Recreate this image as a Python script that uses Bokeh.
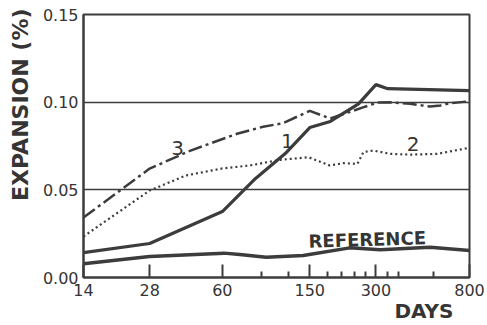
from bokeh.plotting import figure
from bokeh.models import Range1d, FixedTicker, CustomJSTickFormatter, Label, Title
from bokeh.embed import file_html
from bokeh.resources import INLINE

# ---- data ----
days_1 = [14, 28, 60, 85, 116, 150, 186, 250, 300, 340, 800]
exp_1 = [0.0142, 0.0194, 0.0376, 0.0565, 0.0707, 0.0855, 0.0890, 0.0990, 0.1100, 0.1077, 0.1066]

days_2 = [14, 28, 41, 60, 80, 110, 148, 185, 213, 247, 263, 292, 349, 430, 570, 800]
exp_2 = [0.0234, 0.0496, 0.0582, 0.0622, 0.0639, 0.0671, 0.0686, 0.0639, 0.0652, 0.0648,
         0.0715, 0.0724, 0.0705, 0.0701, 0.0705, 0.0740]

days_3 = [14, 28, 43, 70, 92, 113, 150, 186, 204, 262, 305, 350, 430, 530, 590, 650, 800]
exp_3 = [0.0342, 0.0621, 0.0724, 0.0820, 0.0860, 0.0880, 0.0950, 0.0907, 0.0924, 0.0970,
         0.0998, 0.0999, 0.0991, 0.0975, 0.0981, 0.0994, 0.1005]

days_ref = [14, 28, 61, 72, 95, 140, 228, 314, 530, 800]
exp_ref = [0.0078, 0.0120, 0.0139, 0.0131, 0.0116, 0.0125, 0.0169, 0.0158, 0.0173, 0.0154]

x_major_ticks = [14, 28, 60, 150, 300, 800]
x_tick_labels = ["14", "28", "60", "150", "300", "800"]
x_minor_ticks = [90, 120, 180, 210, 240, 270, 340, 380, 550]
y_ticks = [0.0, 0.05, 0.10, 0.15]
y_tick_labels = ["0.00", "0.05", "0.10", "0.15"]

INK = "#3c3c3c"
TXT = "#353535"
FONT = "DejaVu Sans"

p = figure(width=487, height=325, x_axis_type="log",
           x_range=Range1d(14, 800), y_range=Range1d(0, 0.15),
           output_backend="svg", toolbar_location=None,
           min_border_left=83, min_border_right=18, min_border_top=14, min_border_bottom=48)
p.background_fill_color = "white"
p.border_fill_color = "white"
p.outline_line_color = INK
p.outline_line_width = 2
p.outline_line_alpha = 1

# x axis
p.xaxis.ticker = FixedTicker(ticks=x_major_ticks, minor_ticks=x_minor_ticks)
p.xaxis.formatter = CustomJSTickFormatter(args=dict(labels=x_tick_labels),
                                          code="return labels[index]")
p.xaxis.major_tick_in = 13
p.xaxis.major_tick_out = 0
p.xaxis.minor_tick_in = 6
p.xaxis.minor_tick_out = 0
p.xaxis.major_tick_line_color = INK
p.xaxis.minor_tick_line_color = INK
p.xaxis.major_tick_line_width = 2
p.xaxis.minor_tick_line_width = 2
p.xaxis.axis_line_color = INK
p.xaxis.axis_line_width = 2
p.xaxis.major_label_standoff = 6
p.xaxis.major_label_text_font = FONT
p.xaxis.major_label_text_font_size = "16px"
p.xaxis.major_label_text_color = TXT

# y axis
p.yaxis.ticker = FixedTicker(ticks=y_ticks, minor_ticks=[])
p.yaxis.formatter = CustomJSTickFormatter(args=dict(labels=y_tick_labels),
                                          code="return labels[index]")
p.yaxis.major_tick_in = 0
p.yaxis.major_tick_out = 0
p.yaxis.minor_tick_line_color = None
p.yaxis.axis_line_color = INK
p.yaxis.axis_line_width = 2
p.yaxis.major_label_standoff = 5
p.yaxis.major_label_text_font = FONT
p.yaxis.major_label_text_font_size = "16px"
p.yaxis.major_label_text_color = TXT

# grid
p.xgrid.visible = False
p.ygrid.grid_line_color = INK
p.ygrid.grid_line_width = 1.5
p.ygrid.grid_line_alpha = 1

# series
p.line(days_1, exp_1, line_color=INK, line_width=3.2)
p.line(days_2, exp_2, line_color=INK, line_width=2.2, line_dash="2 3")
p.line(days_3, exp_3, line_color=INK, line_width=2.5, line_dash="14 4 3 4")
p.line(days_ref, exp_ref, line_color=INK, line_width=3.5)

# series labels
def add_label(x, y, text, size, bold=False, angle=0.0):
    p.add_layout(Label(x=x, y=y, text=text, text_font=FONT, text_font_size=size,
                       text_font_style="bold" if bold else "normal", text_color=TXT,
                       text_align="center", text_baseline="middle", angle=angle))

add_label(37.5, 0.0741, "3", "20px")
add_label(118.6, 0.0781, "1", "20px")
add_label(443, 0.0764, "2", "20px")
add_label(274, 0.0217, "REFERENCE", "18px", bold=True, angle=0.03)

# axis titles as side-panel titles
p.add_layout(Title(text="EXPANSION (%)", align="right", offset=-6, standoff=10,
                   vertical_align="top", text_font=FONT, text_font_size="22px",
                   text_font_style="bold", text_color=TXT), "left")
p.add_layout(Title(text="DAYS", align="right", offset=16, standoff=0,
                   vertical_align="top", text_font=FONT, text_font_size="20px",
                   text_font_style="bold", text_color=TXT), "below")

open("out.html", "w").write(file_html(p, INLINE))
